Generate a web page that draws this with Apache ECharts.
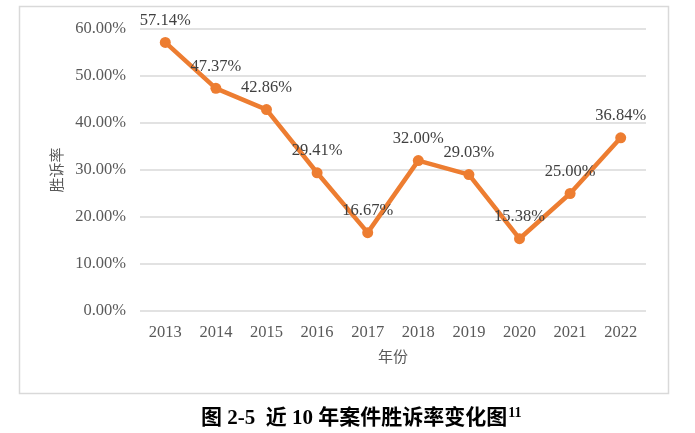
<!DOCTYPE html>
<html lang="zh">
<head>
    <meta charset="UTF-8">
    <title>近10年案件胜诉率变化图</title>
    <style type="text/css">
        body{margin:0;background:#fff;}
        #main{width:695px;height:433px;}
    </style>
</head>
<body>
<div id="main"></div>
<script src="https://cdn.jsdelivr.net/npm/echarts@6/dist/echarts.min.js"></script>
<script>
    // 数据
    var years = ['2013','2014','2015','2016','2017','2018','2019','2020','2021','2022'];
    var winRate = [57.14, 47.37, 42.86, 29.41, 16.67, 32.00, 29.03, 15.38, 25.00, 36.84];

    var serif = '"Liberation Serif", "Times New Roman", "Noto Sans CJK SC", serif';
    var cjk = '"Noto Sans CJK SC", sans-serif';

    var myChart = echarts.init(document.getElementById('main'));

    var option = {
        backgroundColor: '#fff',
        animation: false,
        title: {
            left: 196,
            top: 401,
            text: '{t|图 2-5  近 10 年案件胜诉率变化图}{s|11}',
            textStyle: {
                rich: {
                    t: {fontFamily: serif, fontWeight: 'bold', fontSize: 21, color: '#000'},
                    s: {fontFamily: serif, fontWeight: 'bold', fontSize: 14, color: '#000', verticalAlign: 'top', padding: [0, 0, 12, 1]}
                }
            }
        },
        graphic: [{
            type: 'rect',
            shape: {x: 19.5, y: 6.5, width: 649, height: 387},
            style: {fill: 'none', stroke: '#d9d9d9', lineWidth: 1.5},
            silent: true
        }],
        grid: {left: 140, right: 49, top: 29, bottom: 122},
        xAxis: {
            type: 'category',
            data: years,
            boundaryGap: true,
            name: '年份',
            nameLocation: 'middle',
            nameGap: 38,
            nameTextStyle: {fontFamily: cjk, fontSize: 15, color: '#595959'},
            axisLine: {show: false},
            axisTick: {show: false},
            axisLabel: {fontFamily: serif, fontSize: 16.5, color: '#595959', margin: 13}
        },
        yAxis: {
            type: 'value',
            min: 0,
            max: 60,
            interval: 10,
            name: '胜诉率',
            nameLocation: 'middle',
            nameRotate: 90,
            nameGap: 75,
            nameTextStyle: {fontFamily: cjk, fontSize: 15, color: '#595959'},
            axisLine: {show: false},
            axisTick: {show: false},
            axisLabel: {
                fontFamily: serif, fontSize: 16.5, color: '#595959', margin: 14,
                formatter: function (v) { return v.toFixed(2) + '%'; }
            },
            splitLine: {lineStyle: {color: '#d9d9d9', width: 1.5}}
        },
        series: [{
            name: '胜诉率',
            type: 'line',
            data: winRate,
            symbol: 'circle',
            symbolSize: 11,
            lineStyle: {color: '#ed7d31', width: 4.5},
            itemStyle: {color: '#ed7d31'},
            label: {
                show: true,
                position: 'top',
                distance: 8,
                fontFamily: serif,
                fontSize: 16.5,
                color: '#404040',
                formatter: function (p) { return p.value.toFixed(2) + '%'; }
            }
        }]
    };

    myChart.setOption(option);
</script>
</body>
</html>
